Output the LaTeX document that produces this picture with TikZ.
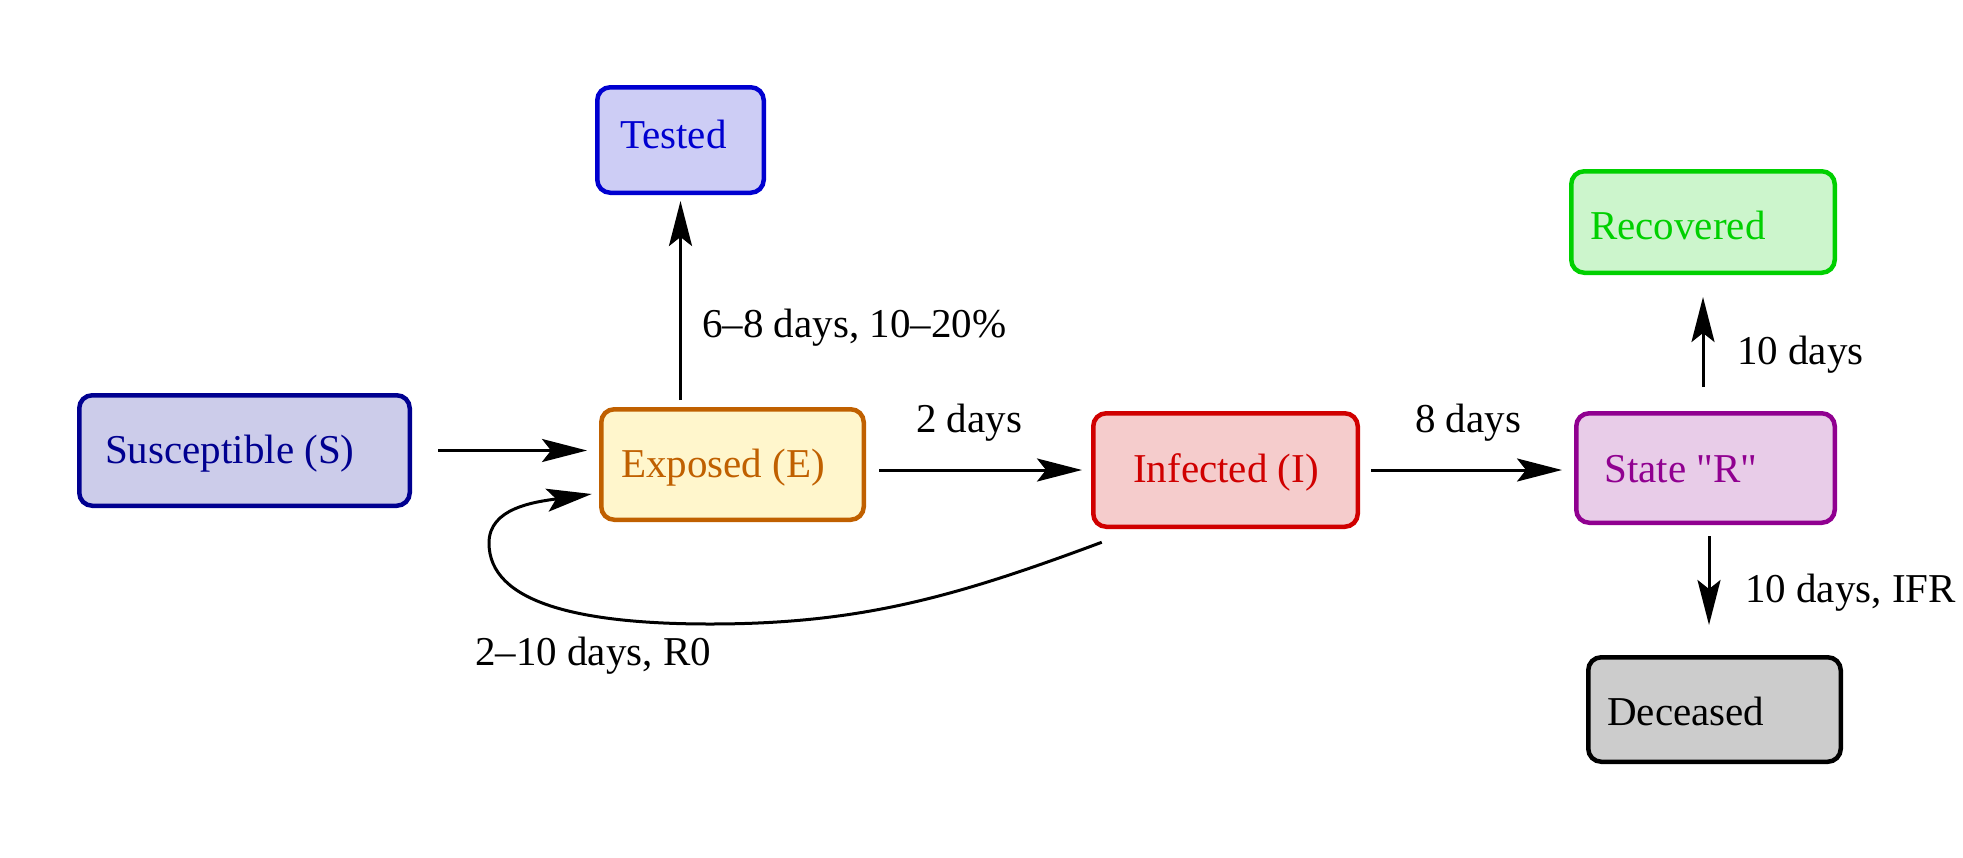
\documentclass[tikz,border=0pt]{standalone}
\usepackage{fontspec}
\setmainfont{Liberation Serif}
\newfontfamily\rawserif[Ligatures=TeXOff]{Liberation Serif}
\usetikzlibrary{arrows.meta,calc}
\definecolor{sFill}{RGB}{204,204,234}
\definecolor{sDraw}{RGB}{0,0,144}
\definecolor{tFill}{RGB}{205,205,245}
\definecolor{tDraw}{RGB}{0,0,208}
\definecolor{eFill}{RGB}{255,246,204}
\definecolor{eDraw}{RGB}{192,96,0}
\definecolor{iFill}{RGB}{245,204,204}
\definecolor{iDraw}{RGB}{208,0,0}
\definecolor{rFill}{RGB}{232,204,232}
\definecolor{rDraw}{RGB}{144,0,144}
\definecolor{gFill}{RGB}{204,245,204}
\definecolor{gDraw}{RGB}{0,208,0}
\definecolor{dFill}{RGB}{204,204,204}
\begin{document}
\begin{tikzpicture}[x=1pt,y=-1pt,
  box/.style={draw, line width=4.5pt, rounded corners=13pt, inner sep=0pt},
  txt/.style={anchor=base west, inner sep=0pt, font=\fontsize{41}{49}\selectfont},
  arr/.style={line width=3pt, -{Stealth[length=45pt,width=23pt,inset=9pt]}}]
\useasboundingbox (0,0) rectangle (1963,857);
% boxes
\node[box, draw=sDraw, fill=sFill, minimum width=330.5pt, minimum height=110.5pt] (S) at (244.5,450.5) {};
\node[box, draw=tDraw, fill=tFill, minimum width=166.5pt, minimum height=105.5pt] (T) at (680.5,140) {};
\node[box, draw=eDraw, fill=eFill, minimum width=262.5pt, minimum height=110.5pt] (E) at (732.5,464.5) {};
\node[box, draw=iDraw, fill=iFill, minimum width=264.5pt, minimum height=113.5pt] (I) at (1225.5,470) {};
\node[box, draw=rDraw, fill=rFill, minimum width=258.5pt, minimum height=109.5pt] (R) at (1705.5,468) {};
\node[box, draw=gDraw, fill=gFill, minimum width=263.5pt, minimum height=101.5pt] (Rec) at (1703,222) {};
\node[box, draw=black, fill=dFill, minimum width=252.5pt, minimum height=104.5pt] (Dec) at (1714.5,709.5) {};
% box texts
\node[txt, text=sDraw] (Stxt) at (105,463) {Susceptible (S)};
\node[txt, text=tDraw] (Ttxt) at (620,148) {Tested};
\node[txt, text=eDraw] (Etxt) at (621,477) {Exposed (E)};
\node[txt, text=iDraw] (Itxt) at (1133,482) {Infected (I)};
\node[txt, text=rDraw] (Rtxt) at (1604,482) {\rawserif State "R"};
\node[txt, text=gDraw] (Rectxt) at (1590,239) {Recovered};
\node[txt, text=black] (Dectxt) at (1607,725) {Deceased};
% edge labels
\node[txt] (lET) at (702,337) {6--8 days, 10--20\%};
\node[txt] (lEI) at (916,432) {2 days};
\node[txt] (lIR) at (1415,432) {8 days};
\node[txt] (lRRec) at (1737,364) {10 days};
\node[txt] (lRDec) at (1745,602) {10 days, IFR};
\node[txt] (lIE) at (475,665) {2--10 days, R0};
% connectors
\draw[arr, shorten <=26pt, shorten >=12pt] (S.east) -- (S.east -| E.west);
\draw[arr, shorten <=7pt, shorten >=6pt] (T.south |- E.north) -- (T.south);
\draw[arr, shorten <=13pt, shorten >=9pt] (E.east |- I.west) -- (I.west);
\draw[arr, shorten <=11pt, shorten >=12pt] (I.east) -- (I.east -| R.west);
\draw[arr, shorten <=24pt, shorten >=22pt] (Rec.south |- R.north) -- (Rec.south);
\draw[arr, shorten <=11pt, shorten >=30pt] ([xshift=3.5pt]R.south) -- ([xshift=3.5pt]R.south |- Dec.north);
\coordinate (fbs) at ($(I.south west)+(10.75,13.25)$);
\coordinate (fbe) at ($(E.west)+(-7.25,29.5)$);
\draw[arr] (fbs) .. controls (955,597) and (860,624) .. (710,624)
  .. controls (580,624) and (489,603) .. (489,543)
  .. controls (489,508) and (534,502) .. (fbe);
\end{tikzpicture}
\end{document}
